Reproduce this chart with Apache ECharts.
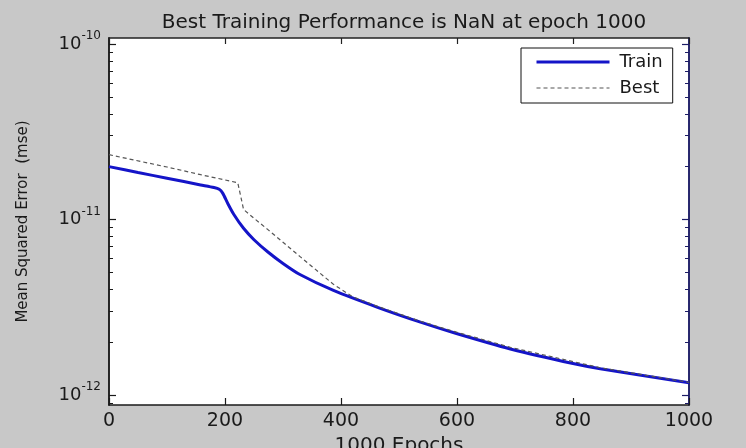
<!DOCTYPE html>
<html><head><meta charset="utf-8">
<script src="https://cdn.jsdelivr.net/npm/echarts@6/dist/echarts.min.js"></script>
<style>html,body{margin:0;padding:0;background:#c8c8c8;}#c{width:746px;height:448px;}</style>
</head><body><div id="c"></div>
<script>
const titleText = 'Best Training Performance is NaN at epoch 1000';
const xName = '1000 Epochs';
const yName = 'Mean Squared Error  (mse)';
const seriesNames = ['Train', 'Best'];
const xTicks = [0, 200, 400, 600, 800, 1000];
const yDecades = [-12, -11, -10];
const trainEpochs = [0, 50, 100, 158, 181, 190, 196, 205, 215, 232, 250, 274, 300, 330, 387, 463, 537, 599, 692, 800, 847, 1000];
const trainMse = [2.0e-11, 1.853e-11, 1.718e-11, 1.574e-11, 1.521e-11, 1.486e-11, 1.413e-11, 1.23e-11, 1.072e-11, 8.91e-12, 7.67e-12, 6.53e-12, 5.62e-12, 4.84e-12, 3.94e-12, 3.16e-12, 2.60e-12, 2.24e-12, 1.83e-12, 1.51e-12, 1.41e-12, 1.175e-12];
const bestEpochs = [0, 100, 158, 222, 226, 232, 250, 274, 300, 330, 387, 420, 463, 537, 599, 692, 800, 847, 1000];
const bestMse = [2.34e-11, 1.99e-11, 1.80e-11, 1.62e-11, 1.41e-11, 1.14e-11, 1.016e-11, 8.75e-12, 7.41e-12, 6.12e-12, 4.27e-12, 3.63e-12, 3.2e-12, 2.63e-12, 2.28e-12, 1.87e-12, 1.55e-12, 1.43e-12, 1.18e-12];

const yMin = -12.057, yMax = -9.966;
const minorTicks = [];
for (let n = -13; n <= -10; n++) {
  for (let k = 2; k <= 9; k++) {
    const v = Math.log10(k) + n;
    if (v > yMin && v < yMax) minorTicks.push(v);
  }
}
const FONT = 'DejaVu Sans';
const TXT = '#1a1a1a';
const RIGHT = '#1c1c66';
const TRAIN_C = '#1414c8';
const BEST_C = '#555555';
const toPts = (xs, ys) => xs.map((x, i) => [x, Math.log10(ys[i])]);

const yBase = (pos, color) => ({
  type: 'value', min: yMin, max: yMax, position: pos,
  splitLine: { show: false },
  axisLine: { show: true, onZero: false, lineStyle: { color: color, width: 1.5 } }
});

const chart = echarts.init(document.getElementById('c'), null, { renderer: 'canvas' });
chart.setOption({
  backgroundColor: '#c8c8c8',
  animation: false,
  title: {
    text: titleText, left: 399, top: 8, textAlign: 'center',
    textStyle: { fontFamily: FONT, fontSize: 20, fontWeight: 'normal', color: TXT }
  },
  legend: {
    data: [
      { name: seriesNames[0], itemStyle: { opacity: 0 }, lineStyle: { width: 3, color: TRAIN_C } },
      { name: seriesNames[1], itemStyle: { opacity: 0 }, lineStyle: { width: 1.2, color: BEST_C, type: [4, 3] } }
    ],
    orient: 'vertical', left: 521, top: 48,
    padding: [4, 10, 5, 14], itemGap: 6, itemWidth: 73, itemHeight: 14,
    backgroundColor: '#ffffff', borderColor: '#111', borderWidth: 1, borderRadius: 0,
    textStyle: { fontFamily: FONT, fontSize: 18, color: TXT, lineHeight: 20, padding: [0, 0, 0, 5] }
  },
  grid: {
    left: 109, right: 57, top: 38, bottom: 43, show: true, backgroundColor: '#ffffff', borderWidth: 0,
    containLabel: false, outerBoundsMode: 'none'
  },
  xAxis: [
    {
      type: 'value', min: 0, max: 1000, interval: 200, position: 'bottom',
      splitLine: { show: false },
      axisLine: { show: true, onZero: false, lineStyle: { color: TXT, width: 1.5 } },
      axisTick: { inside: true, length: 7, lineStyle: { color: TXT, width: 1.2 } },
      axisLabel: { margin: 7, fontFamily: FONT, fontSize: 19, color: TXT, formatter: v => String(v) },
      name: xName, nameLocation: 'middle', nameGap: 28,
      nameTextStyle: { fontFamily: FONT, fontSize: 20, color: TXT }
    },
    {
      type: 'value', min: 0, max: 1000, interval: 200, position: 'top',
      splitLine: { show: false },
      axisLine: { show: true, onZero: false, lineStyle: { color: '#222', width: 1.5 } },
      axisTick: { inside: true, length: 6, lineStyle: { color: '#222', width: 1.2 } },
      axisLabel: { show: false }
    }
  ],
  yAxis: [
    Object.assign(yBase('left', TXT), {
      axisTick: { inside: true, length: 7, customValues: yDecades, lineStyle: { color: TXT, width: 1.2 } },
      axisLabel: {
        customValues: yDecades, margin: 8,
        formatter: v => '{b|10}{s|' + Math.round(v) + '}',
        rich: {
          b: { fontFamily: FONT, fontSize: 18, color: TXT, lineHeight: 28 },
          s: { fontFamily: FONT, fontSize: 12, color: TXT, lineHeight: 12, verticalAlign: 'top' }
        }
      },
      name: yName, nameLocation: 'middle', nameGap: 78, nameRotate: 90,
      nameTextStyle: { fontFamily: FONT, fontSize: 15, color: TXT }
    }),
    Object.assign(yBase('left', TXT), {
      axisTick: { inside: true, length: 4, customValues: minorTicks, lineStyle: { color: TXT, width: 1 } },
      axisLabel: { show: false }
    }),
    Object.assign(yBase('right', RIGHT), {
      axisTick: { inside: true, length: 7, customValues: yDecades, lineStyle: { color: RIGHT, width: 1.2 } },
      axisLabel: { show: false }
    }),
    Object.assign(yBase('right', RIGHT), {
      axisTick: { inside: true, length: 4, customValues: minorTicks, lineStyle: { color: RIGHT, width: 1 } },
      axisLabel: { show: false }
    })
  ],
  series: [
    {
      name: seriesNames[0], type: 'line', xAxisIndex: 0, yAxisIndex: 0,
      data: toPts(trainEpochs, trainMse), symbol: 'none', smooth: 0.25,
      lineStyle: { color: TRAIN_C, width: 3 }, itemStyle: { color: TRAIN_C }
    },
    {
      name: seriesNames[1], type: 'line', xAxisIndex: 0, yAxisIndex: 0,
      data: toPts(bestEpochs, bestMse), symbol: 'none', smooth: false,
      lineStyle: { color: BEST_C, width: 1.2, type: [4, 3] }, itemStyle: { color: BEST_C }
    }
  ]
});
</script>
</body></html>
